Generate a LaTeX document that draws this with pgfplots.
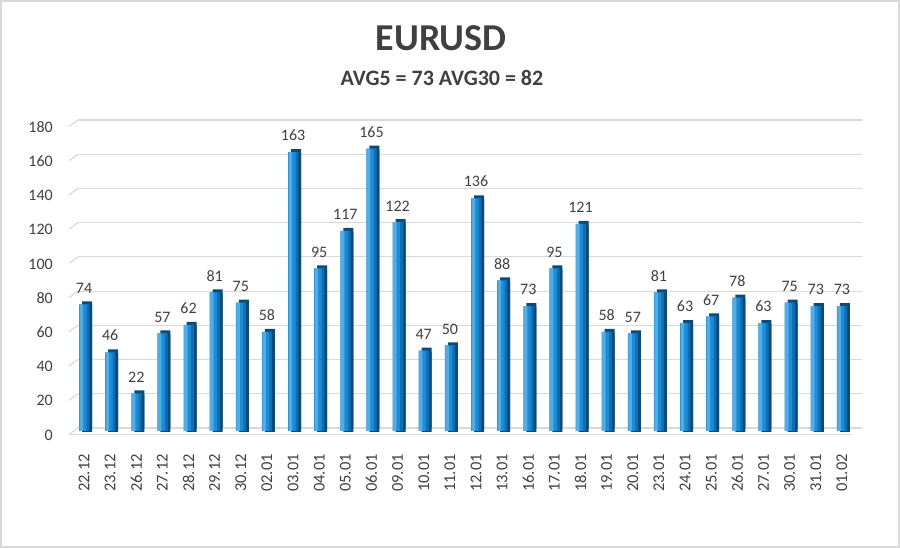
\documentclass[border=0pt]{standalone}
\usepackage{pgfplots}
\usepackage{pgfplotstable}
\pgfplotsset{compat=1.18}
\usepackage{fontspec}
\setmainfont{Carlito}
\definecolor{txt}{HTML}{404040}
\definecolor{gridc}{HTML}{D9D9D9}
\definecolor{barL}{HTML}{4FAEE8}
\definecolor{barM}{HTML}{1E8BD6}
\definecolor{barR}{HTML}{0A70BA}
\definecolor{barS}{HTML}{0C4A78}
\pgfplotstableread{
x y
0 74
1 46
2 22
3 57
4 62
5 81
6 75
7 58
8 163
9 95
10 117
11 165
12 122
13 47
14 50
15 136
16 88
17 73
18 95
19 121
20 58
21 57
22 81
23 63
24 67
25 78
26 63
27 75
28 73
29 73
}\datatable
\begin{document}
\begin{tikzpicture}[x=1pt,y=1pt]
\useasboundingbox (0,0) rectangle (900,548);
\draw[gridc, line width=2pt] (1,1) rectangle (899,547);
\node[font=\fontsize{38}{40}\selectfont\bfseries, text=txt] at (441,510) {EURUSD};
\node[font=\fontsize{22}{24}\selectfont\bfseries, text=txt] at (442,470) {AVG5 = 73 AVG30 = 82};
\foreach \v in {0,20,...,180} {
  \draw[gridc, line width=1.2pt] (69,{120+1.711*\v-6.5}) -- (78,{120+1.711*\v});
}
\draw[gridc, line width=1.2pt] (69,113.5) -- (852,113.5);
\begin{axis}[
  at={(78pt,120pt)}, anchor=south west,
  scale only axis, width=784pt, height=308pt,
  xmin=-0.23, xmax=29.77, ymin=0, ymax=180,
  axis line style={draw=none},
  major tick length=0pt,
  ymajorgrids, grid style={gridc, line width=1.2pt},
  ytick={0,20,...,180},
  xtick={0,...,29},
  xticklabels={22.12,23.12,26.12,27.12,28.12,29.12,30.12,02.01,03.01,04.01,05.01,06.01,09.01,10.01,11.01,12.01,13.01,16.01,17.01,18.01,19.01,20.01,23.01,24.01,25.01,26.01,27.01,30.01,31.01,01.02},
  /pgf/number format/assume math mode=true,
  ticklabel style={font=\fontsize{16}{18}\selectfont, text=txt},
  yticklabel style={anchor=east, inner sep=0pt, xshift=-25pt, yshift=-7pt},
  xticklabel style={rotate=90, anchor=east, inner sep=0pt, font=\fontsize{16.5}{18}\selectfont},
  xticklabel shift=26pt,
  clip=false,
]
\addplot[ybar, bar width=10pt, bar shift=3pt, fill=barS, draw=none] table[x=x,y=y] {\datatable};
\addplot[ybar, bar width=10pt, bar shift=3pt, fill=barS, draw=none, yshift=-4pt] table[x=x,y=y] {\datatable};
\addplot[ybar, bar width=10pt, bar shift=0pt, fill=barM, draw=none, yshift=-3pt,
  nodes near coords,
  every node near coord/.append style={font=\fontsize{16}{18}\selectfont, text=txt, anchor=south, inner sep=0pt, yshift=11pt}]
  table[x=x,y=y] {\datatable};
\addplot[ybar, bar width=3.5pt, bar shift=-2.75pt, fill=barL, draw=none, yshift=-3pt] table[x=x,y=y] {\datatable};
\addplot[ybar, bar width=2.5pt, bar shift=3.75pt, fill=barR, draw=none, yshift=-3pt] table[x=x,y=y] {\datatable};
\end{axis}
\end{tikzpicture}
\end{document}
